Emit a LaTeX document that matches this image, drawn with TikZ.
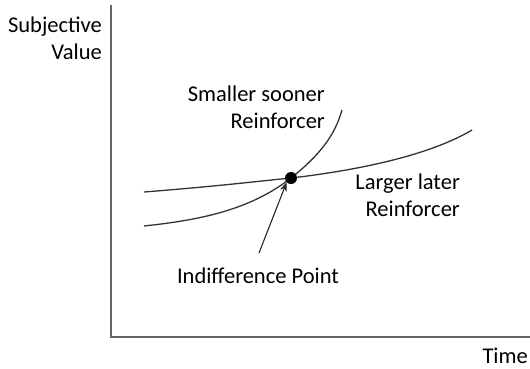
\documentclass[tikz,border=0pt]{standalone}
\usepackage{fontspec}
\setmainfont{Carlito}
\usetikzlibrary{arrows.meta}
\begin{document}
\begin{tikzpicture}[x=1pt,y=-1pt,
  lbl/.style={font=\fontsize{22.5}{27}\selectfont, inner sep=0pt, align=right, text=black},
  axis/.style={draw=black!60, line width=2pt},
  curve/.style={draw=black!80, line width=1.3pt},
  arr/.style={draw=black!85, line width=1.1pt, -{Stealth[length=9pt,width=7pt]}}]
\useasboundingbox (0,0) rectangle (530,368);
\coordinate (top) at (111,5);
\coordinate (origin) at (111,337);
\coordinate (right) at (530,337);
\draw[axis] (top) -- (origin) -- (right);
\node[lbl, anchor=north east] (yl) at (102,17) {Subjective\\Value};
\node[lbl, anchor=north east] (xl) at (528,348) {Time};
\draw[curve] (144,226) .. controls (200,220) and (250,210) .. (291,178) .. controls (320,155) and (335,135) .. (342,110);
\draw[curve] (144,192) .. controls (220,186) and (260,181) .. (291,178) .. controls (360,170) and (430,155) .. (472,130);
\node[circle, fill=black, inner sep=0pt, minimum size=12pt] (ip) at (291,178) {};
\coordinate (tail) at (259,253);
\draw[arr] (tail) -- (ip.south west);
\node[lbl, anchor=north east] (ss) at (325,86) {Smaller sooner\\Reinforcer};
\node[lbl, anchor=north east] (ll) at (460,174) {Larger later\\Reinforcer};
\node[lbl, anchor=north] (il) at (258,268) {Indifference Point};
\end{tikzpicture}
\end{document}
